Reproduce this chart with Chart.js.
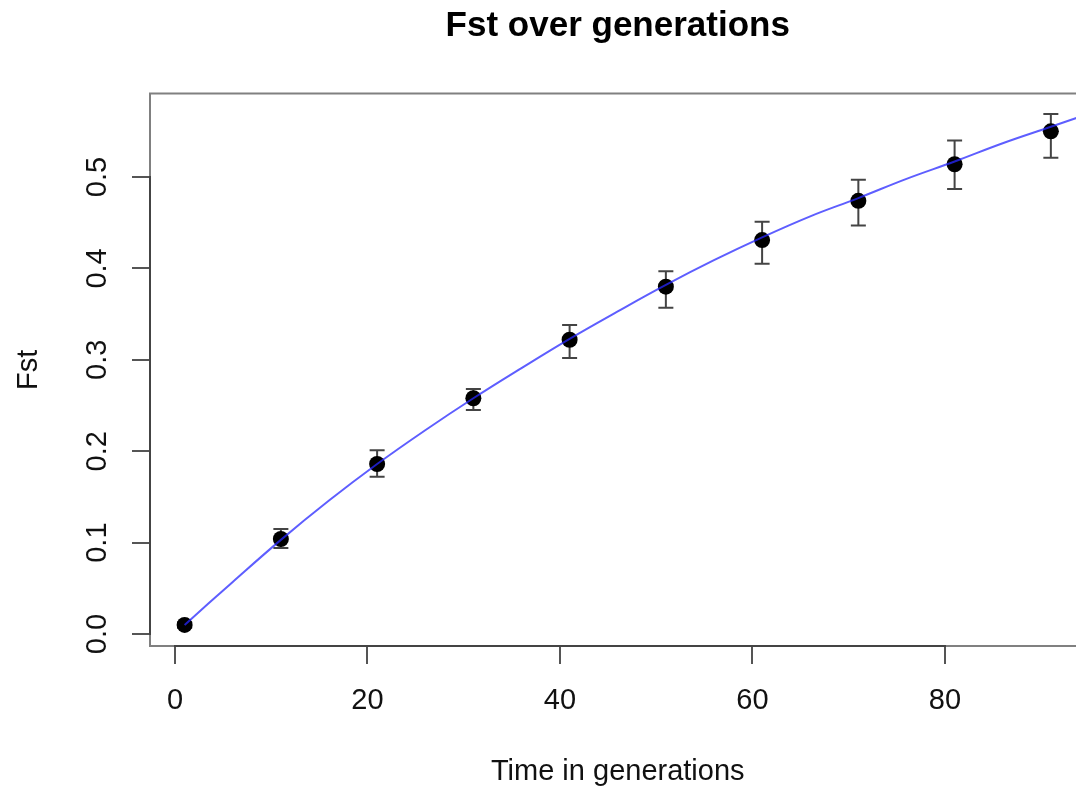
<!DOCTYPE html>
<html>
<head>
<meta charset="utf-8">
<script src="https://cdn.jsdelivr.net/npm/chart.js@4.4.1/dist/chart.umd.min.js"></script>
<style>
  html, body { margin: 0; padding: 0; background: #ffffff; overflow: hidden; width: 1076px; height: 788px; }
  #wrap { position: absolute; left: 0; top: 0; width: 1200px; height: 788px; }
</style>
</head>
<body>
<div id="wrap"><canvas id="c" width="1200" height="788"></canvas></div>
<script>
// ---- data ----
const generations = [1, 11, 21, 31, 41, 51, 61, 71, 81, 91];
const fstMean = [0.010, 0.104, 0.186, 0.258, 0.322, 0.380, 0.431, 0.474, 0.514, 0.550];
const fstLow  = [0.007, 0.094, 0.172, 0.245, 0.302, 0.357, 0.405, 0.447, 0.487, 0.521];
const fstHigh = [0.013, 0.115, 0.201, 0.268, 0.338, 0.397, 0.451, 0.497, 0.540, 0.569];
const curveX = [1, 6, 11, 16, 21, 26, 31, 36, 41, 46, 51, 56, 61, 66, 71, 76, 81, 86, 91, 96];
const curveY = [0.010, 0.057, 0.103, 0.146, 0.186, 0.223, 0.258, 0.291, 0.323, 0.353,
                0.382, 0.409, 0.434, 0.457, 0.477, 0.498, 0.517, 0.537, 0.555, 0.573];
const xTicks = [0, 20, 40, 60, 80];
const yTicks = [0.0, 0.1, 0.2, 0.3, 0.4, 0.5];

const FONT = "'Liberation Sans', Arial, Helvetica, sans-serif";

const errorBars = {
  id: 'errorBars',
  beforeDatasetsDraw(chart) {
    const ctx = chart.ctx, xs = chart.scales.x, ys = chart.scales.y;
    ctx.save();
    ctx.strokeStyle = '#444';
    ctx.lineWidth = 2;
    const cap = 7.5;
    generations.forEach((g, i) => {
      const px = xs.getPixelForValue(g);
      const pl = ys.getPixelForValue(fstLow[i]);
      const ph = ys.getPixelForValue(fstHigh[i]);
      ctx.beginPath();
      ctx.moveTo(px, pl); ctx.lineTo(px, ph);
      ctx.moveTo(px - cap, pl); ctx.lineTo(px + cap, pl);
      ctx.moveTo(px - cap, ph); ctx.lineTo(px + cap, ph);
      ctx.stroke();
    });
    ctx.restore();
  }
};

const frame = {
  id: 'frame',
  afterDraw(chart) {
    const ctx = chart.ctx, a = chart.chartArea, xs = chart.scales.x, ys = chart.scales.y;
    ctx.save();
    ctx.strokeStyle = '#808080';
    ctx.lineWidth = 2;
    ctx.strokeRect(a.left, a.top, a.right - a.left, a.bottom - a.top);
    ctx.strokeStyle = '#444';
    ctx.beginPath();
    ctx.moveTo(xs.getPixelForValue(xTicks[0]) - 1, a.bottom);
    ctx.lineTo(xs.getPixelForValue(xTicks[xTicks.length - 1]) + 1, a.bottom);
    ctx.moveTo(a.left, ys.getPixelForValue(yTicks[0]) + 1);
    ctx.lineTo(a.left, ys.getPixelForValue(yTicks[yTicks.length - 1]) - 1);
    ctx.stroke();
    ctx.restore();
  }
};

new Chart(document.getElementById('c'), {
  type: 'scatter',
  data: {
    datasets: [
      {
        label: 'curve',
        data: curveX.map((x, i) => ({ x: x, y: curveY[i] })),
        showLine: true,
        borderColor: 'rgba(40,40,255,0.75)',
        borderWidth: 2,
        pointRadius: 0,
        tension: 0.4,
        order: 0
      },
      {
        label: 'Fst',
        data: generations.map((x, i) => ({ x: x, y: fstMean[i] })),
        backgroundColor: '#000',
        borderColor: '#000',
        pointRadius: 8,
        pointBorderWidth: 0,
        order: 1
      }
    ]
  },
  options: {
    responsive: false,
    animation: false,
    events: [],
    layout: { autoPadding: false, padding: { left: 0, right: 114.5, top: 0, bottom: 0 } },
    plugins: {
      legend: { display: false },
      tooltip: { enabled: false },
      title: {
        display: true,
        fullSize: false,
        text: 'Fst over generations',
        color: '#000',
        font: { family: FONT, size: 35, weight: 'bold' },
        padding: { top: 5, bottom: 46.5 }
      }
    },
    scales: {
      x: {
        type: 'linear',
        min: -2.597,
        max: 94.6,
        afterFit(s) { s.height = 142; },
        afterBuildTicks(s) { s.ticks = xTicks.map(v => ({ value: v })); },
        border: { display: false },
        grid: { drawOnChartArea: false, drawTicks: true, tickLength: 18, color: '#555', lineWidth: 2 },
        ticks: {
          color: '#111',
          font: { family: FONT, size: 29 },
          padding: 20,
          maxRotation: 0,
          minRotation: 0,
          callback: v => String(v)
        },
        title: {
          display: true,
          text: 'Time in generations',
          color: '#111',
          font: { family: FONT, size: 29 },
          padding: { top: 0, bottom: -1 }
        }
      },
      y: {
        type: 'linear',
        min: -0.0131,
        max: 0.5914,
        afterFit(s) { s.width = 150; },
        afterBuildTicks(s) { s.ticks = yTicks.map(v => ({ value: v })); },
        border: { display: false },
        grid: { drawOnChartArea: false, drawTicks: true, tickLength: 18, color: '#555', lineWidth: 2 },
        ticks: {
          color: '#111',
          font: { family: FONT, size: 29 },
          padding: 14,
          minRotation: 90,
          maxRotation: 90,
          crossAlign: 'center',
          callback: v => v.toFixed(1)
        },
        title: {
          display: true,
          text: 'Fst',
          color: '#111',
          font: { family: FONT, size: 29 },
          padding: { top: 11.6, bottom: 0 }
        }
      }
    }
  },
  plugins: [errorBars, frame]
});
</script>
</body>
</html>
